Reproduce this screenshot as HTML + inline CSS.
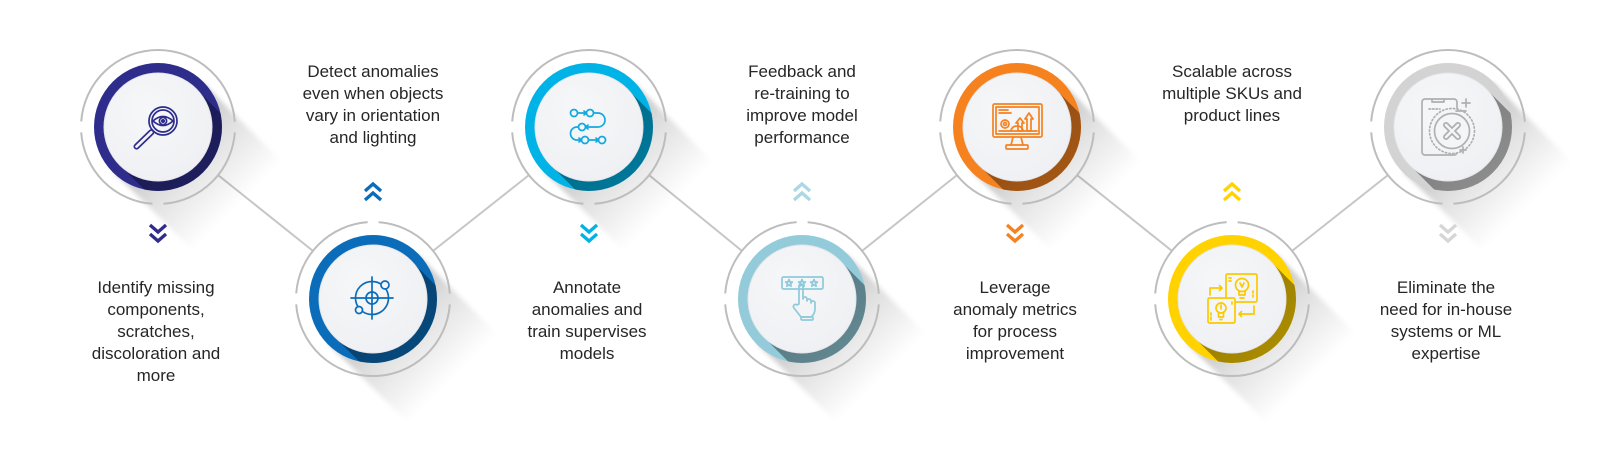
<!DOCTYPE html>
<html><head><meta charset="utf-8"><style>
html,body{margin:0;padding:0;background:#fff;}
svg{display:block;}
text{font-family:"Liberation Sans",sans-serif;font-size:17px;fill:#262626;text-anchor:middle;}
.ring{fill:none;stroke:#bdbdbd;stroke-width:2;}
.con{stroke:#c6c6c6;stroke-width:2;}
.ic{fill:none;stroke-width:1.7;stroke-linecap:round;stroke-linejoin:round;}
.chev{fill:none;stroke-width:3.3;}
</style></head><body>
<svg width="1622" height="449" viewBox="0 0 1622 449" xmlns="http://www.w3.org/2000/svg">
<defs>
  <linearGradient id="gs" x1="0" y1="0" x2="1" y2="0">
    <stop offset="0" stop-color="#000" stop-opacity="0.26"/>
    <stop offset="0.45" stop-color="#000" stop-opacity="0.12"/>
    <stop offset="1" stop-color="#000" stop-opacity="0"/>
  </linearGradient>
  <linearGradient id="ds" x1="0" y1="0" x2="1" y2="0">
    <stop offset="0" stop-color="#000" stop-opacity="0.40"/>
    <stop offset="1" stop-color="#000" stop-opacity="0.28"/>
  </linearGradient>
  <radialGradient id="wd" cx="0.4" cy="0.35" r="0.7">
    <stop offset="0" stop-color="#f6f7f9"/>
    <stop offset="1" stop-color="#eff0f3"/>
  </radialGradient>
  <filter id="bl" x="-50%" y="-50%" width="200%" height="200%"><feGaussianBlur stdDeviation="2.5"/></filter>
  <clipPath id="cd"><circle cx="0" cy="0" r="64"/></clipPath>
  <g id="shad">
    <g transform="rotate(45)"><rect x="0" y="-63" width="112" height="126" fill="url(#gs)" filter="url(#bl)"/></g>
  </g>
  <g id="dark">
    <g clip-path="url(#cd)"><g transform="rotate(45)"><rect x="0" y="-54" width="120" height="108" fill="url(#ds)"/></g></g>
  </g>
  <g id="white"><circle r="54" fill="url(#wd)" stroke="#e4e5e8" stroke-width="1"/></g>
</defs>

<!-- connectors -->
<line class="con" x1="218.1" y1="175.1" x2="312.9" y2="250.9"/>
<line class="con" x1="433.1" y1="250.9" x2="528.9" y2="175.1"/>
<line class="con" x1="649.1" y1="175.1" x2="741.9" y2="250.9"/>
<line class="con" x1="862.1" y1="250.9" x2="956.9" y2="175.1"/>
<line class="con" x1="1077.1" y1="175.1" x2="1171.9" y2="250.9"/>
<line class="con" x1="1292.1" y1="250.9" x2="1387.9" y2="175.1"/>

<!-- Circle 1 -->
<g transform="translate(158,127)">
  <use href="#shad"/>
  <circle class="ring" r="77" stroke-dasharray="0 5.5 109.95 11 109.95 11 230.9 5.5"/>
  <circle r="64" fill="#2e2d8c"/>
  <use href="#dark"/>
  <use href="#white"/>
  <g class="ic" stroke="#2e2d8c">
    <circle cx="5" cy="-6" r="14"/>
    <circle cx="5" cy="-6" r="11"/>
    <path d="M-5,-6 Q5,-15 15,-6 Q5,3 -5,-6Z"/>
    <circle cx="5" cy="-6" r="3.6"/>
    <circle cx="5" cy="-6" r="1.2" fill="#2e2d8c"/>
    <rect x="14" y="-2.2" width="25" height="4.4" rx="2.2" transform="translate(5,-6) rotate(136)"/>
  </g>
</g>

<!-- Circle 2 -->
<g transform="translate(373,299)">
  <use href="#shad"/>
  <circle class="ring" r="77" stroke-dasharray="0 5.5 230.9 11 109.95 11 109.95 5.5"/>
  <circle r="64" fill="#0b6dba"/>
  <use href="#dark"/>
  <use href="#white"/>
  <g class="ic" stroke="#0b6dba">
    <circle cx="-1" cy="-1" r="16.5"/>
    <circle cx="-1" cy="-1" r="6"/>
    <path d="M-22,-1 H20 M-1,-22 V20"/>
    <circle cx="12" cy="-14" r="4" fill="#f4f5f7"/>
    <circle cx="-14" cy="11" r="3.5" fill="#f4f5f7"/>
  </g>
</g>

<!-- Circle 3 -->
<g transform="translate(589,127)">
  <use href="#shad"/>
  <circle class="ring" r="77" stroke-dasharray="0 5.5 109.95 11 109.95 11 230.9 5.5"/>
  <circle r="64" fill="#00b3e6"/>
  <use href="#dark"/>
  <use href="#white"/>
  <g class="ic" stroke="#12a9e0">
    <circle cx="-15" cy="-14" r="3.5"/>
    <circle cx="1" cy="-14" r="3.5"/>
    <circle cx="-7" cy="0" r="3.5"/>
    <circle cx="-4" cy="13" r="3.5"/>
    <circle cx="13" cy="13" r="3.5"/>
    <path d="M-11.5,-14 H-2.5 M-5,-16 L-2.5,-14 L-5,-12"/>
    <path d="M4.5,-14 H9 A7,7 0 0 1 9,0 H-3.5 M-1,-2 L-3.5,0 L-1,2"/>
    <path d="M-10.5,0 H-12 A6.5,6.5 0 0 0 -12,13 H-7.5 M-10,11 L-7.5,13 L-10,15"/>
    <path d="M-0.5,13 H9.5 M7,11 L9.5,13 L7,15"/>
  </g>
</g>

<!-- Circle 4 -->
<g transform="translate(802,299)">
  <use href="#shad"/>
  <circle class="ring" r="77" stroke-dasharray="0 5.5 230.9 11 109.95 11 109.95 5.5"/>
  <circle r="64" fill="#93cbda"/>
  <use href="#dark"/>
  <use href="#white"/>
  <g class="ic" stroke="#8ecadb">
    <rect x="-20" y="-22" width="41" height="12" rx="1.5"/>
    <path d="M-13,-19.5 L-12,-17 L-9.6,-17 L-11.5,-15.3 L-10.8,-12.8 L-13,-14.2 L-15.2,-12.8 L-14.5,-15.3 L-16.4,-17 L-14,-17Z"/>
    <path d="M0,-19.5 L1,-17 L3.4,-17 L1.5,-15.3 L2.2,-12.8 L0,-14.2 L-2.2,-12.8 L-1.5,-15.3 L-3.4,-17 L-1,-17Z"/>
    <path d="M12,-19.5 L13,-17 L15.4,-17 L13.5,-15.3 L14.2,-12.8 L12,-14.2 L9.8,-12.8 L10.5,-15.3 L8.6,-17 L11,-17Z"/>
    <path d="M-3,5 V-13 a2,2 0 0 1 4,0 V0 a2,2 0 0 1 4,0 V2 a2,2 0 0 1 4,0 V4 a2,2 0 0 1 4,0 V10 q0,5 -4,8 H-1 L-8,9 a2,2 0 0 1 3,-3 Z"/>
    <rect x="-1" y="18" width="12" height="3" rx="1"/>
  </g>
</g>

<!-- Circle 5 -->
<g transform="translate(1017,127)">
  <use href="#shad"/>
  <circle class="ring" r="77" stroke-dasharray="0 5.5 109.95 11 109.95 11 230.9 5.5"/>
  <circle r="64" fill="#f5821f"/>
  <use href="#dark"/>
  <use href="#white"/>
  <g class="ic" stroke="#f5821f">
    <rect x="-24" y="-23" width="49" height="33" rx="1.5"/>
    <rect x="-21" y="-20" width="43" height="27"/>
    <path d="M-18,-17 H-9 M-18,-14 H-6"/>
    <circle cx="-12" cy="-3" r="4"/>
    <circle cx="-12" cy="-3" r="1.5"/>
    <path d="M1,4 V-4 H-1 L3,-9 L7,-4 H5 V4Z"/>
    <path d="M10,4 V-8 H8 L12,-14 L16,-8 H14 V4Z"/>
    <path d="M-18,4 H20"/>
    <path d="M-6,4 A6,5 0 0 1 6,4"/>
    <path d="M-4,10 L-6,18 M4,10 L6,18"/>
    <rect x="-11" y="18" width="22" height="4" rx="1"/>
  </g>
</g>

<!-- Circle 6 -->
<g transform="translate(1232,299)">
  <use href="#shad"/>
  <circle class="ring" r="77" stroke-dasharray="0 5.5 230.9 11 109.95 11 109.95 5.5"/>
  <circle r="64" fill="#ffd200"/>
  <use href="#dark"/>
  <use href="#white"/>
  <g class="ic" stroke="#fcc900">
    <rect x="-6" y="-25" width="31" height="28" rx="1.5"/>
    <circle cx="10" cy="-14" r="6.5"/>
    <path d="M7,-8 V-4 H13 V-8 M8,-1 H12 M8,-16 L10,-12 L12,-16"/>
    <path d="M-3,-21 H-1 M-3,-18 H-1 M21,-4 V-2 M21,-8 V-6"/>
    <rect x="-24" y="-1" width="27" height="25" rx="1.5" fill="#f4f5f7"/>
    <circle cx="-11" cy="9" r="5"/>
    <path d="M-13.5,14 V18 H-8.5 V14 M-12,20.5 H-10 M-11,6 V10"/>
    <path d="M-21,18 V21 M-21,14 V16 M0,3 V5"/>
    <path d="M-22,-4 V-11 H-10 M-12.5,-13.5 L-10,-11 L-12.5,-8.5"/>
    <path d="M22,7 V15 H7 M9.5,12.5 L7,15 L9.5,17.5"/>
  </g>
</g>

<!-- Circle 7 -->
<g transform="translate(1448,127)">
  <use href="#shad"/>
  <circle class="ring" r="77" stroke-dasharray="0 5.5 109.95 11 109.95 11 230.9 5.5"/>
  <circle r="64" fill="#d3d3d3"/>
  <use href="#dark"/>
  <use href="#white"/>
  <g class="ic" stroke="#b0b0b0">
    <rect x="-26" y="-28" width="35" height="56" rx="3"/>
    <path d="M-16,-28 V-25 H-4 V-28"/>
    <path d="M-19,-18 H-8" stroke-dasharray="1.5 2"/>
    <circle cx="4" cy="4" r="22.5" stroke-dasharray="1.3 2.4" fill="#f4f5f7"/>
    <circle cx="4" cy="4" r="17.5"/>
    <path d="M-2,-2 L10,10 M10,-2 L-2,10" stroke-width="6"/>
    <path d="M-2,-2 L10,10 M10,-2 L-2,10" stroke="#f4f5f7" stroke-width="2.4"/>
    <path d="M18,-28 V-20 M14,-24 H22 M15,20 V26 M12,23 H18 M8,-16 H12 M13,-16 H18"/>
  </g>
</g>

<!-- chevrons -->
<g class="chev">
  <path stroke="#2e2d8c" d="M150,225 L158,232 L166,225 M150,234 L158,241 L166,234"/>
  <path stroke="#0b6dba" d="M365,191 L373,184 L381,191 M365,200 L373,193 L381,200"/>
  <path stroke="#00b3e6" d="M581,225 L589,232 L597,225 M581,234 L589,241 L597,234"/>
  <path stroke="#acd8e5" d="M794,191 L802,184 L810,191 M794,200 L802,193 L810,200"/>
  <path stroke="#f5821f" d="M1007,225 L1015,232 L1023,225 M1007,234 L1015,241 L1023,234"/>
  <path stroke="#ffd200" d="M1224,191 L1232,184 L1240,191 M1224,200 L1232,193 L1240,200"/>
  <path stroke="#d6d6d6" d="M1440,225 L1448,232 L1456,225 M1440,234 L1448,241 L1456,234"/>
</g>

<!-- labels -->
<text x="156" y="293">Identify missing</text>
<text x="156" y="315">components,</text>
<text x="156" y="337">scratches,</text>
<text x="156" y="359">discoloration and</text>
<text x="156" y="381">more</text>

<text x="373" y="77">Detect anomalies</text>
<text x="373" y="99">even when objects</text>
<text x="373" y="121">vary in orientation</text>
<text x="373" y="143">and lighting</text>

<text x="587" y="293">Annotate</text>
<text x="587" y="315">anomalies and</text>
<text x="587" y="337">train supervises</text>
<text x="587" y="359">models</text>

<text x="802" y="77">Feedback and</text>
<text x="802" y="99">re-training to</text>
<text x="802" y="121">improve model</text>
<text x="802" y="143">performance</text>

<text x="1015" y="293">Leverage</text>
<text x="1015" y="315">anomaly metrics</text>
<text x="1015" y="337">for process</text>
<text x="1015" y="359">improvement</text>

<text x="1232" y="77">Scalable across</text>
<text x="1232" y="99">multiple SKUs and</text>
<text x="1232" y="121">product lines</text>

<text x="1446" y="293">Eliminate the</text>
<text x="1446" y="315">need for in-house</text>
<text x="1446" y="337">systems or ML</text>
<text x="1446" y="359">expertise</text>
</svg>
</body></html>
